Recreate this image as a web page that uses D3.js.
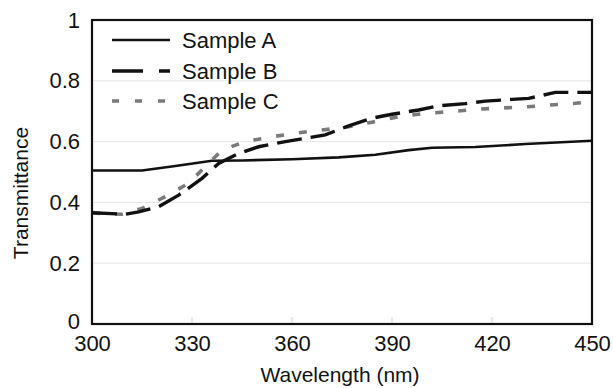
<!DOCTYPE html>
<html><head><meta charset="utf-8">
<script src="https://cdn.jsdelivr.net/npm/d3@7"></script>
<style>body{margin:0;background:#fff}svg{display:block}text{font-family:"Liberation Sans",Arial,sans-serif;fill:#111}</style>
</head><body><svg id="c" width="613" height="388"></svg>
<script>
const wlA = [300,315,325,336,345,360,374,385,395,402,415,430,450];
const valA = [0.505,0.505,0.52,0.537,0.538,0.542,0.548,0.557,0.572,0.58,0.582,0.592,0.603];
const wlB = [300,310,314,320,326,333,338,344,350,358,370,377,384,390,398,404,412,418,426,431,439,445,450];
const valB = [0.366,0.361,0.369,0.386,0.424,0.479,0.528,0.561,0.583,0.6,0.622,0.652,0.677,0.69,0.704,0.718,0.725,0.733,0.739,0.742,0.762,0.762,0.762];
const wlC = [300,309,315,322,329,334,339,346,354,362,369,377,384,392,400,407,415,422,430,437,445,450];
const valC = [0.365,0.361,0.38,0.419,0.463,0.518,0.572,0.6,0.616,0.629,0.638,0.649,0.664,0.682,0.693,0.698,0.706,0.71,0.714,0.72,0.726,0.732];
const xTicks = [300,330,360,390,420,450];
const yTicks = [0,0.2,0.4,0.6,0.8,1];
const seriesNames = ["Sample A","Sample B","Sample C"];

const svg = d3.select("#c");
const L=92,R=592,T=20,B=324;
const x = d3.scaleLinear().domain([300,450]).range([L,R]);
const y = d3.scaleLinear().domain([0,1]).range([B,T]);

// gridlines
svg.append("g").selectAll("line").data(yTicks.filter(d=>d>0&&d<1)).join("line")
  .attr("x1",L).attr("x2",R).attr("y1",d=>y(d)).attr("y2",d=>y(d))
  .attr("stroke","#e6e6e6").attr("stroke-width",1);
// x inner tick marks
svg.append("g").selectAll("line").data(xTicks.slice(1,-1)).join("line")
  .attr("x1",d=>x(d)).attr("x2",d=>x(d)).attr("y1",B).attr("y2",B-7)
  .attr("stroke","#d0d0d0").attr("stroke-width",1);

// y axis labels
const ya = svg.append("g").attr("transform",`translate(${L},0)`)
  .call(d3.axisLeft(y).tickValues(yTicks).tickFormat(d3.format("")).tickSize(0).tickPadding(12));
ya.select(".domain").remove();
ya.selectAll("text").style("font-size","22px").style("font-family","Liberation Sans, Arial, sans-serif").attr("fill","#111");
ya.selectAll(".tick").filter(d=>d===0).select("text").attr("dy","0.2em");
// x axis labels
const xa = svg.append("g").attr("transform",`translate(0,${B})`)
  .call(d3.axisBottom(x).tickValues(xTicks).tickFormat(d3.format("")).tickSize(0).tickPadding(11));
xa.select(".domain").remove();
xa.selectAll("text").style("font-size","22px").style("font-family","Liberation Sans, Arial, sans-serif").attr("fill","#111");

const line = d3.line().x(d=>x(d[0])).y(d=>y(d[1]));
const styles = [
  {stroke:"#111",dash:null,w:2.6},
  {stroke:"#111",dash:"25,9",w:3.4},
  {stroke:"#7a7a7a",dash:"8,15",w:3.6}
];
const data = [d3.zip(wlA,valA), d3.zip(wlB,valB), d3.zip(wlC,valC)];
[0,2,1].forEach(i=>{
  svg.append("path").datum(data[i]).attr("d",line).attr("fill","none")
    .attr("stroke",styles[i].stroke).attr("stroke-width",styles[i].w)
    .attr("stroke-dasharray",styles[i].dash);
});

// frame
svg.append("rect").attr("x",L).attr("y",T).attr("width",R-L).attr("height",B-T)
  .attr("fill","none").attr("stroke","#111").attr("stroke-width",2.2);

// legend
const legY=[40,71,101];
const legDash=["","31,16","7,16"];
seriesNames.forEach((n,i)=>{
  svg.append("line").attr("x1",112).attr("x2",170).attr("y1",legY[i]).attr("y2",legY[i])
    .attr("stroke",styles[i].stroke).attr("stroke-width",styles[i].w)
    .attr("stroke-dasharray",legDash[i]||null);
  svg.append("text").attr("x",182).attr("y",legY[i]).attr("dy","0.35em")
    .style("font-size","22px").text(n);
});

// axis titles
svg.append("text").attr("x",(L+R)/2 - 2).attr("y",375).attr("dy","0.35em").attr("text-anchor","middle")
  .style("font-size","21px").text("Wavelength (nm)");
svg.append("text").attr("transform","translate(21,193) rotate(-90)").attr("dy","0.35em").attr("text-anchor","middle")
  .style("font-size","21px").text("Transmittance");
</script></body></html>
